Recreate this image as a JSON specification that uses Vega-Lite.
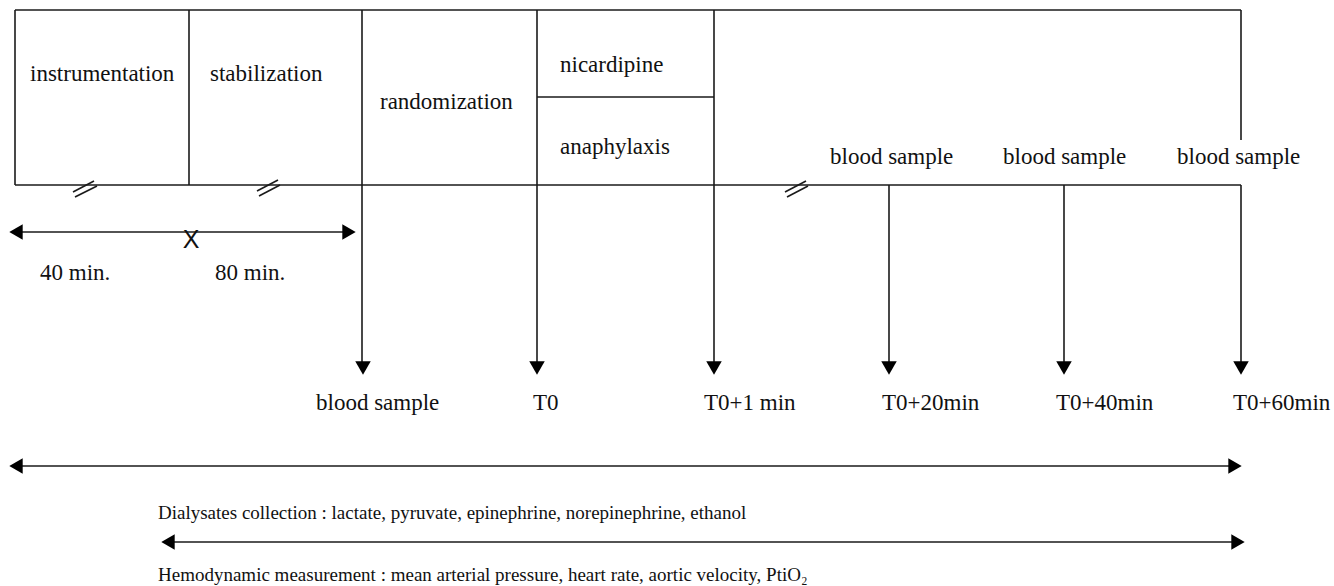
{
  "$schema": "https://vega.github.io/schema/vega-lite/v6.json",
  "width": 1334,
  "height": 586,
  "padding": 0,
  "autosize": {"type": "fit", "contains": "padding"},
  "background": "white",
  "config": {"view": {"stroke": null}},
  "datasets": {
    "segments": [
      {"x": 15, "y": 10, "x2": 1241, "y2": 10},
      {"x": 15, "y": 185, "x2": 1241, "y2": 185},
      {"x": 15, "y": 10, "x2": 15, "y2": 185},
      {"x": 189, "y": 10, "x2": 189, "y2": 185},
      {"x": 362, "y": 10, "x2": 362, "y2": 362},
      {"x": 537, "y": 10, "x2": 537, "y2": 362},
      {"x": 537, "y": 97, "x2": 714, "y2": 97},
      {"x": 714, "y": 10, "x2": 714, "y2": 362},
      {"x": 889, "y": 185, "x2": 889, "y2": 362},
      {"x": 1064, "y": 185, "x2": 1064, "y2": 362},
      {"x": 1241, "y": 10, "x2": 1241, "y2": 140},
      {"x": 1241, "y": 185, "x2": 1241, "y2": 362},
      {"x": 12, "y": 232, "x2": 352, "y2": 232},
      {"x": 12, "y": 466, "x2": 1238, "y2": 466},
      {"x": 165, "y": 542, "x2": 1240, "y2": 542},
      {"x": 73, "y": 192, "x2": 94, "y2": 181},
      {"x": 75, "y": 197, "x2": 97, "y2": 186},
      {"x": 257, "y": 191, "x2": 278, "y2": 180},
      {"x": 259, "y": 196, "x2": 280, "y2": 185},
      {"x": 785, "y": 192, "x2": 806, "y2": 181},
      {"x": 787, "y": 197, "x2": 808, "y2": 186}
    ],
    "heads": [
      {"x": 363, "y": 368, "dir": "triangle-down"},
      {"x": 537, "y": 368, "dir": "triangle-down"},
      {"x": 714, "y": 368, "dir": "triangle-down"},
      {"x": 889, "y": 368, "dir": "triangle-down"},
      {"x": 1064, "y": 368, "dir": "triangle-down"},
      {"x": 1241, "y": 368, "dir": "triangle-down"},
      {"x": 16, "y": 232, "dir": "triangle-left"},
      {"x": 349, "y": 232, "dir": "triangle-right"},
      {"x": 16, "y": 466, "dir": "triangle-left"},
      {"x": 1235, "y": 466, "dir": "triangle-right"},
      {"x": 168, "y": 542, "dir": "triangle-left"},
      {"x": 1238, "y": 542, "dir": "triangle-right"}
    ],
    "labels": [
      {"x": 30, "y": 74, "label": "instrumentation"},
      {"x": 210, "y": 74, "label": "stabilization"},
      {"x": 380, "y": 102, "label": "randomization"},
      {"x": 560, "y": 65, "label": "nicardipine"},
      {"x": 560, "y": 147, "label": "anaphylaxis"},
      {"x": 830, "y": 157, "label": "blood sample"},
      {"x": 1003, "y": 157, "label": "blood sample"},
      {"x": 1177, "y": 157, "label": "blood sample"},
      {"x": 40, "y": 273, "label": "40 min."},
      {"x": 215, "y": 273, "label": "80 min."},
      {"x": 316, "y": 403, "label": "blood sample"},
      {"x": 533, "y": 403, "label": "T0"},
      {"x": 704, "y": 403, "label": "T0+1 min"},
      {"x": 882, "y": 403, "label": "T0+20min"},
      {"x": 1056, "y": 403, "label": "T0+40min"},
      {"x": 1233, "y": 403, "label": "T0+60min"}
    ],
    "notes": [
      {"x": 158, "y": 513, "label": "Dialysates collection : lactate, pyruvate, epinephrine, norepinephrine, ethanol"},
      {"x": 158, "y": 575, "label": "Hemodynamic measurement : mean arterial pressure, heart rate, aortic velocity, PtiO₂"}
    ],
    "cross": [
      {"x": 191, "y": 248, "label": "X"}
    ]
  },
  "encoding": {
    "x": {"field": "x", "type": "quantitative", "scale": {"domain": [0, 1334], "nice": false, "zero": false}, "axis": null},
    "y": {"field": "y", "type": "quantitative", "scale": {"domain": [0, 586], "nice": false, "zero": false, "reverse": true}, "axis": null}
  },
  "layer": [
    {
      "data": {"name": "segments"},
      "mark": {"type": "rule", "color": "#1a1a1a", "strokeWidth": 1.6},
      "encoding": {
        "x2": {"field": "x2"},
        "y2": {"field": "y2"}
      }
    },
    {
      "data": {"name": "heads"},
      "mark": {"type": "point", "filled": true, "color": "#000000", "opacity": 1, "size": 240, "strokeWidth": 0},
      "encoding": {
        "shape": {"field": "dir", "type": "nominal", "scale": null, "legend": null}
      }
    },
    {
      "data": {"name": "labels"},
      "mark": {"type": "text", "align": "left", "baseline": "middle", "font": "Liberation Serif", "fontSize": 23, "color": "#111111"},
      "encoding": {"text": {"field": "label"}}
    },
    {
      "data": {"name": "notes"},
      "mark": {"type": "text", "align": "left", "baseline": "middle", "font": "Liberation Serif", "fontSize": 19, "color": "#111111"},
      "encoding": {"text": {"field": "label"}}
    },
    {
      "data": {"name": "cross"},
      "mark": {"type": "text", "align": "center", "baseline": "alphabetic", "font": "Liberation Sans", "fontSize": 25, "color": "#111111"},
      "encoding": {"text": {"field": "label"}}
    }
  ]
}
